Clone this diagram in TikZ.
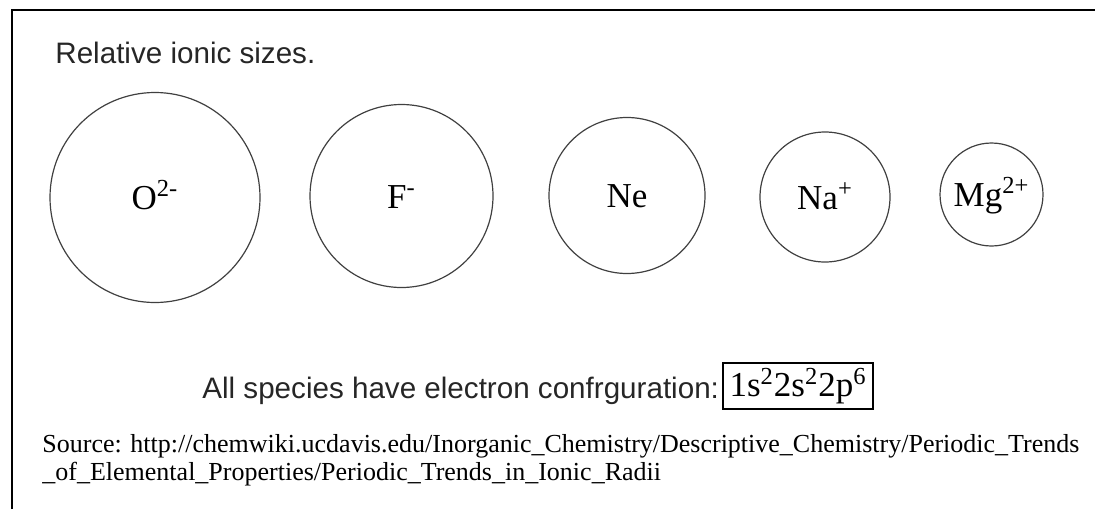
\documentclass[tikz,border=0pt]{standalone}
\usepackage{fontspec}
\setmainfont{Liberation Serif}
\setsansfont{Liberation Sans}
\usetikzlibrary{positioning}

\tikzset{
  ion/.style={circle, draw=black!75, line width=0.6pt, inner sep=0pt,
    text height=12pt, text depth=0pt,
    font=\fontsize{17.5}{20}\selectfont},
  caption/.style={anchor=base west, inner sep=0pt,
    font=\sffamily\fontsize{14.8}{17}\selectfont, text=black!85},
  source/.style={anchor=base west, inner sep=0pt,
    font=\fontsize{13}{15}\selectfont},
}

\begin{document}
\begin{tikzpicture}[x=0.5pt, y=-0.5pt]
  \useasboundingbox (0,0) rectangle (1095,509);
  % frame: only top and left edges show
  \draw[line width=1pt] (12,509) -- (12,10) -- (1095,10);
  \node[caption] (title) at (55,63) {Relative ionic sizes.};
  % ions, largest to smallest
  \node[ion, minimum size=105pt]  (O)  at (155,197.5) {O\textsuperscript{2-}};
  \node[ion, minimum size=91.5pt] (F)  at (401.5,196) {F\textsuperscript{-}};
  \node[ion, minimum size=78pt]   (Ne) at (627,195.5) {Ne};
  \node[ion, minimum size=65pt]   (Na) at (825,197)   {Na\textsuperscript{+}};
  \node[ion, minimum size=51.5pt] (Mg) at (991.5,194.5) {Mg\textsuperscript{2+}};
  % shared configuration
  \node[caption] (note) at (202,398) {All species have electron confrguration:};
  \node[draw, line width=0.8pt, inner sep=0pt, minimum width=75pt, minimum height=23pt,
    font=\fontsize{17.5}{20}\selectfont] (config) at (798,386)
    {1s\textsuperscript{2}2s\textsuperscript{2}2p\textsuperscript{6}};
  % source
  \node[source] (src1) at (42,452)
    {Source: http://chemwiki.ucdavis.edu/Inorganic\_Chemistry/Descriptive\_Chemistry/Periodic\_Trends};
  \node[source] (src2) at (42,480)
    {\_of\_Elemental\_Properties/Periodic\_Trends\_in\_Ionic\_Radii};
\end{tikzpicture}
\end{document}
